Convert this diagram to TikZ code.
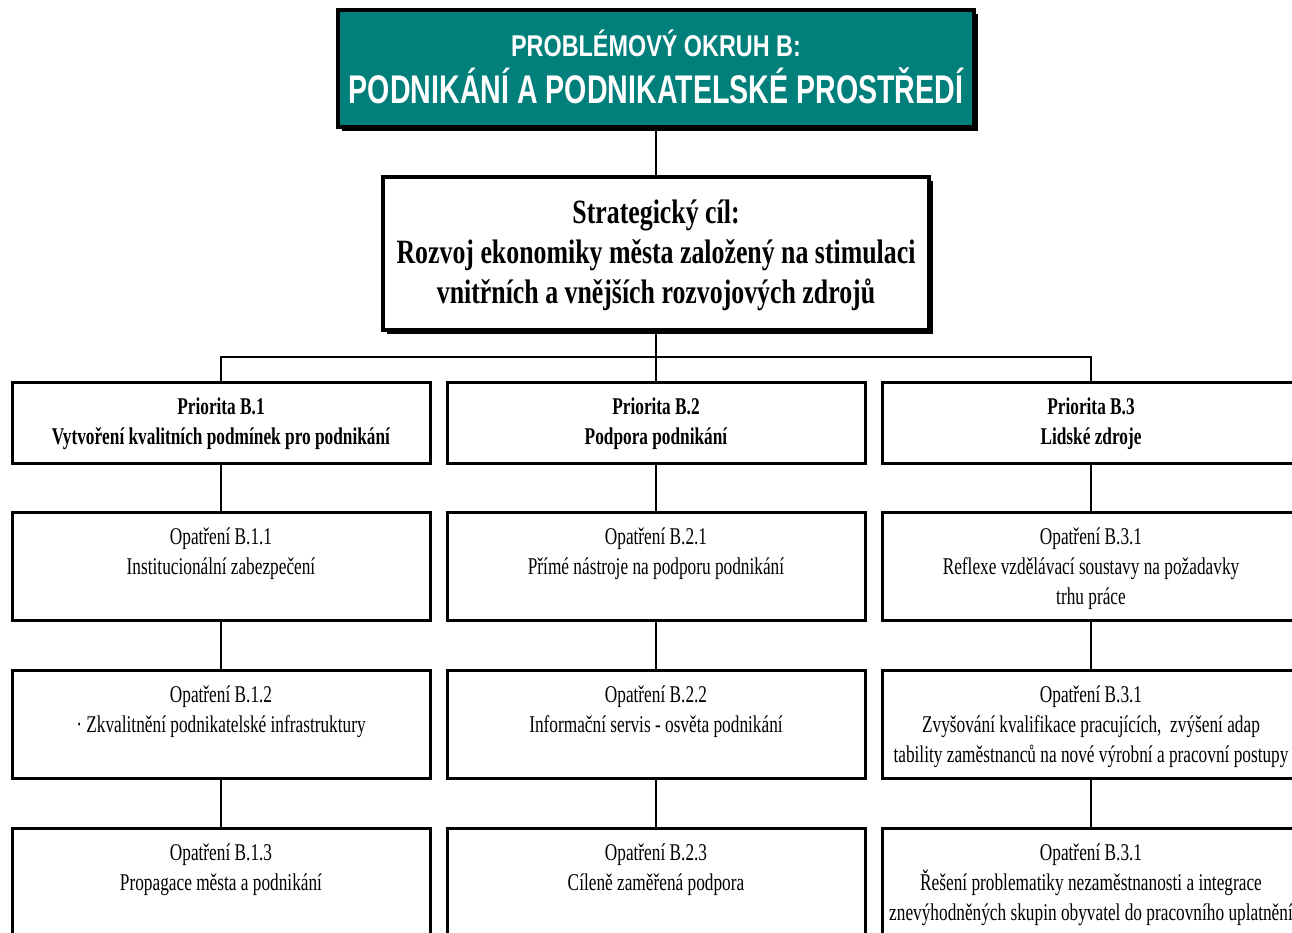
\documentclass[tikz,border=0pt]{standalone}
\usepackage{fontspec}
\newfontfamily\hdfonta[FakeStretch=0.78]{Liberation Sans}
\newfontfamily\hdfontb[FakeStretch=0.715]{Liberation Sans}
\newfontfamily\tmfont[FakeStretch=0.72]{Liberation Serif}
\newfontfamily\stfont[FakeStretch=0.76]{Liberation Serif}
\definecolor{hdteal}{HTML}{007F7B}
\begin{document}
\begin{tikzpicture}[x=1pt,y=-1pt,
  shadowbox/.style={draw=black, line width=4pt, inner sep=0pt, outer sep=0pt, anchor=north west},
  colbox/.style={draw=black, line width=3pt, inner sep=0pt, outer sep=0pt, anchor=north west,
     minimum width=418pt},
  pribox/.style={colbox, minimum height=81pt},
  optbox/.style={colbox, minimum height=108pt},
  pritxt/.style={anchor=north, inner sep=0pt, align=center,
     font=\tmfont\bfseries\fontsize{24}{29.5}\selectfont},
  opttxt/.style={anchor=north, inner sep=0pt, align=center,
     font=\tmfont\fontsize{24}{30}\selectfont},
  conn/.style={draw=black, line width=1.3pt}]
\clip (0,0) rectangle (1292,932);
\fill[white] (0,0) rectangle (1292,932);

% header box
\fill[black] (342,14) rectangle (978,131);
\node[shadowbox, fill=hdteal, minimum width=636pt, minimum height=117pt] (top) at (338,10) {};
\node[anchor=base, inner sep=0pt, text=white, font=\hdfonta\bfseries\fontsize{30}{36}\selectfont] (topa) at (656,56) {PROBLÉMOVÝ OKRUH B:};
\node[anchor=base, inner sep=0pt, text=white, font=\hdfontb\bfseries\fontsize{40}{48}\selectfont] (topb) at (656,103) {PODNIKÁNÍ A PODNIKATELSKÉ PROSTŘEDÍ};

% strategic box
\fill[black] (387,181) rectangle (933,334);
\node[shadowbox, fill=white, minimum width=546pt, minimum height=153pt] (strat) at (383,177) {};
\node[anchor=north, inner sep=0pt, align=center, font=\stfont\bfseries\fontsize{34}{40}\selectfont] (strattxt) at ([yshift=-23pt]strat.north) {Strategický cíl:\\Rozvoj ekonomiky města založený na stimulaci\\vnitřních a vnějších rozvojových zdrojů};

% priorities
\node[pribox] (p1) at (12,382) {};
\node[pribox] (p2) at (447,382) {};
\node[pribox] (p3) at (882,382) {};
\node[pritxt] (p1t) at ([yshift=-16pt]p1.north) {Priorita B.1\\Vytvoření kvalitních podmínek pro podnikání};
\node[pritxt] (p2t) at ([yshift=-16pt]p2.north) {Priorita B.2\\Podpora podnikání};
\node[pritxt] (p3t) at ([yshift=-16pt]p3.north) {Priorita B.3\\Lidské zdroje};

% measures row 1
\node[optbox] (o11) at (12,512) {};
\node[optbox] (o21) at (447,512) {};
\node[optbox] (o31) at (882,512) {};
\node[opttxt] (o11t) at ([yshift=-16pt]o11.north) {Opatření B.1.1\\Institucionální zabezpečení};
\node[opttxt] (o21t) at ([yshift=-16pt]o21.north) {Opatření B.2.1\\Přímé nástroje na podporu podnikání};
\node[opttxt] (o31t) at ([yshift=-16pt]o31.north) {Opatření B.3.1\\Reflexe vzdělávací soustavy na požadavky\\trhu práce};

% measures row 2
\node[optbox] (o12) at (12,670) {};
\node[optbox] (o22) at (447,670) {};
\node[optbox] (o32) at (882,670) {};
\node[opttxt] (o12t) at ([yshift=-16pt]o12.north) {Opatření B.1.2\\· Zkvalitnění podnikatelské infrastruktury};
\node[opttxt] (o22t) at ([yshift=-16pt]o22.north) {Opatření B.2.2\\Informační servis - osvěta podnikání};
\node[opttxt] (o32t) at ([yshift=-16pt]o32.north) {Opatření B.3.1\\Zvyšování kvalifikace pracujících,\ \ zvýšení adap\\tability zaměstnanců na nové výrobní a pracovní postupy};

% measures row 3
\node[optbox] (o13) at (12,828) {};
\node[optbox] (o23) at (447,828) {};
\node[optbox] (o33) at (882,828) {};
\node[opttxt] (o13t) at ([yshift=-16pt]o13.north) {Opatření B.1.3\\Propagace města a podnikání};
\node[opttxt] (o23t) at ([yshift=-16pt]o23.north) {Opatření B.2.3\\Cíleně zaměřená podpora};
\node[opttxt] (o33t) at ([yshift=-16pt]o33.north) {Opatření B.3.1\\Řešení problematiky nezaměstnanosti a integrace\\znevýhodněných skupin obyvatel do pracovního uplatnění};

% connectors
\coordinate (hub) at (656,357);
\draw[conn] (top.south) -- (strat.north);
\draw[conn] (strat.south) -- (hub);
\draw[conn] (hub) -| (p1.north);
\draw[conn] (hub) -- (p2.north);
\draw[conn] (hub) -| (p3.north);
\foreach \c in {1,2,3}{
  \draw[conn] (p\c.south) -- (o\c1.north);
  \draw[conn] (o\c1.south) -- (o\c2.north);
  \draw[conn] (o\c2.south) -- (o\c3.north);
}
\end{tikzpicture}
\end{document}
